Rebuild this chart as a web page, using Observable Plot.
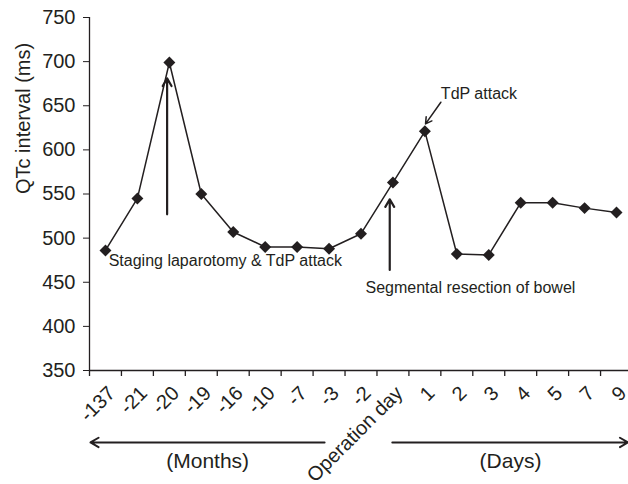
<!DOCTYPE html>
<html>
<head>
<meta charset="utf-8">
<script src="https://cdn.jsdelivr.net/npm/d3@7"></script>
<script src="https://cdn.jsdelivr.net/npm/@observablehq/plot@0.6"></script>
<style>
  html, body { margin: 0; padding: 0; background: #fff; overflow: hidden; }
  svg { display: block; }
</style>
</head>
<body>
<div id="chart"></div>
<script>
// Category labels along the x axis
const categories = ["-137", "-21", "-20", "-19", "-16", "-10", "-7", "-3", "-2",
  "Operation day", "1", "2", "3", "4", "5", "7", "9"];
// QTc interval values (ms)
const qtc = [486, 545, 699, 550, 507, 490, 490, 488, 505, 563, 621, 482, 481, 540, 540, 534, 529];
// Y axis tick values
const yTicks = [350, 400, 450, 500, 550, 600, 650, 700, 750];

// Annotation texts
const noteTexts = ["Staging laparotomy & TdP attack", "Segmental resection of bowel", "TdP attack"];
const periodTexts = ["(Months)", "(Days)"];

const table = categories.map((c, i) => ({cat: c, idx: i + 0.5, value: qtc[i]}));
const boundaries = d3.range(0, categories.length);

const ink = "#231f20";
const font = "Liberation Sans, Arial, Helvetica, sans-serif";

const notes = [
  {text: noteTexts[0], x: 0.6, y: 474},
  {text: noteTexts[1], x: 8.64, y: 444},
  {text: noteTexts[2], x: 11.0, y: 664}
];
const eventArrows = [
  {x1: 2.43, y1: 527, x2: 2.43, y2: 681},
  {x1: 9.40, y1: 464, x2: 9.40, y2: 544}
];
const tdpArrow = [{x1: 11.0, y1: 654, x2: 10.52, y2: 629.5}];
const periodArrows = [
  {x1: 7.36, x2: 0.03, y: 268.5},
  {x1: 9.48, x2: 16.86, y: 268.5}
];
const periods = [
  {text: periodTexts[0], x: 3.7, y: 247},
  {text: periodTexts[1], x: 13.18, y: 247}
];

const chart = Plot.plot({
  width: 628,
  height: 484,
  marginLeft: 89,
  marginRight: -4,
  marginTop: 17,
  marginBottom: 114,
  style: {fontFamily: font, color: ink, background: "#fff", overflow: "visible"},
  x: {type: "linear", domain: [0, categories.length], axis: null},
  y: {type: "linear", domain: [350, 750], axis: null},
  marks: [
    Plot.axisY({ticks: yTicks, tickSize: 6, tickPadding: 8, fontSize: 20, label: null, stroke: ink, fill: ink}),
    Plot.text(["QTc interval (ms)"], {frameAnchor: "left", rotate: -90, dx: -66, fontSize: 20, fill: ink}),
    Plot.axisX({ticks: boundaries, tickFormat: () => "", tickSize: 6, label: null, stroke: ink, strokeWidth: 1.3}),
    Plot.ruleX([0], {stroke: ink, strokeWidth: 1.3}),
    Plot.ruleY([350], {stroke: ink, strokeWidth: 1.3}),
    Plot.text(table, {x: "idx", y: 350, text: "cat", rotate: -45, textAnchor: "end", lineAnchor: "bottom", dx: 11, dy: 24, fontSize: 20, fill: ink}),
    Plot.line(table, {x: "idx", y: "value", stroke: ink, strokeWidth: 1.5}),
    Plot.dot(table, {x: "idx", y: "value", symbol: "diamond2", r: 5.4, fill: ink, stroke: "none"}),
    Plot.arrow(eventArrows, {x1: "x1", y1: "y1", x2: "x2", y2: "y2", stroke: ink, strokeWidth: 2.2, headLength: 6}),
    Plot.arrow(tdpArrow, {x1: "x1", y1: "y1", x2: "x2", y2: "y2", stroke: ink, strokeWidth: 1.5, headLength: 7}),
    Plot.text(notes, {x: "x", y: "y", text: "text", textAnchor: "start", fontSize: 16, fill: ink}),
    Plot.arrow(periodArrows, {x1: "x1", y1: "y", x2: "x2", y2: "y", stroke: ink, strokeWidth: 2, headLength: 7}),
    Plot.text(periods, {x: "x", y: "y", text: "text", fontSize: 21, fill: ink})
  ]
});
document.getElementById("chart").appendChild(chart);
</script>
</body>
</html>
